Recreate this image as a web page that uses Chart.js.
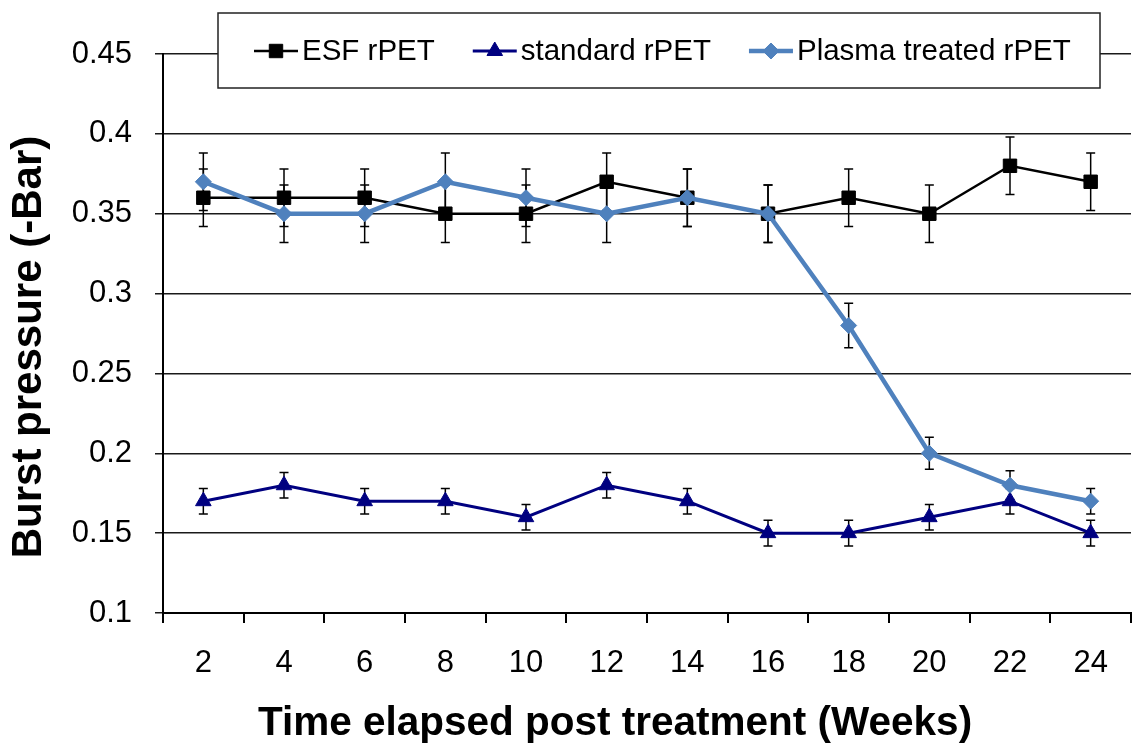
<!DOCTYPE html>
<html>
<head>
<meta charset="utf-8">
<title>Burst pressure over time</title>
<script src="https://cdn.jsdelivr.net/npm/chart.js@4.4.1/dist/chart.umd.min.js"></script>
<style>
  html, body { margin: 0; padding: 0; background: #fff; }
</style>
</head>
<body>
<canvas id="burstChart" width="1132" height="747"></canvas>
<script>
// Data
const weeks = ['2', '4', '6', '8', '10', '12', '14', '16', '18', '20', '22', '24'];

const esfValues = [0.36, 0.36, 0.36, 0.35, 0.35, 0.37, 0.36, 0.35, 0.36, 0.35, 0.38, 0.37];
const esfErrors = [0.018, 0.018, 0.018, 0.018, 0.018, 0.018, 0.018, 0.018, 0.018, 0.018, 0.018, 0.018];

const standardValues = [0.17, 0.18, 0.17, 0.17, 0.16, 0.18, 0.17, 0.15, 0.15, 0.16, 0.17, 0.15];
const standardErrors = [0.008, 0.008, 0.008, 0.008, 0.008, 0.008, 0.008, 0.008, 0.008, 0.008, 0.008, 0.008];

const plasmaValues = [0.37, 0.35, 0.35, 0.37, 0.36, 0.35, 0.36, 0.35, 0.28, 0.20, 0.18, 0.17];
const plasmaErrors = [0.018, 0.018, 0.018, 0.018, 0.018, 0.018, 0.018, 0.018, 0.014, 0.010, 0.009, 0.008];

const yTicks = [0.1, 0.15, 0.2, 0.25, 0.3, 0.35, 0.4, 0.45];

const xTitle = 'Time elapsed post treatment (Weeks)';
const yTitle = 'Burst pressure (-Bar)';

const FONT = '"Liberation Sans", Arial, Helvetica, sans-serif';

// vertical error bars, drawn under the lines and markers
const errorBars = {
    id: 'errorBars',
    beforeDatasetsDraw(chart) {
        const ctx = chart.ctx;
        const yScale = chart.scales.y;
        ctx.save();
        ctx.strokeStyle = '#000';
        ctx.lineWidth = 1.5;
        chart.data.datasets.forEach((ds, i) => {
            if (!ds.errors) return;
            const meta = chart.getDatasetMeta(i);
            meta.data.forEach((pt, j) => {
                const v = ds.data[j];
                const e = ds.errors[j];
                const top = yScale.getPixelForValue(v + e);
                const bot = yScale.getPixelForValue(v - e);
                ctx.beginPath();
                ctx.moveTo(pt.x, top);
                ctx.lineTo(pt.x, bot);
                ctx.moveTo(pt.x - 4.5, top);
                ctx.lineTo(pt.x + 4.5, top);
                ctx.moveTo(pt.x - 4.5, bot);
                ctx.lineTo(pt.x + 4.5, bot);
                ctx.stroke();
            });
        });
        ctx.restore();
    }
};

// Excel-like boxed legend (line + marker) sitting over the top gridline
const boxLegend = {
    id: 'boxLegend',
    afterDraw(chart) {
        const ctx = chart.ctx;
        ctx.save();
        ctx.fillStyle = '#fff';
        ctx.strokeStyle = '#222';
        ctx.lineWidth = 1.5;
        ctx.fillRect(218, 13, 882, 75);
        ctx.strokeRect(218, 13, 882, 75);

        ctx.font = '29.5px ' + FONT;
        ctx.textBaseline = 'middle';
        ctx.textAlign = 'left';
        const cy = 51;
        let x = 254;
        chart.data.datasets.forEach(ds => {
            ctx.strokeStyle = ds.borderColor;
            ctx.lineWidth = ds.borderWidth;
            ctx.beginPath();
            ctx.moveTo(x, cy);
            ctx.lineTo(x + 44, cy);
            ctx.stroke();

            ctx.fillStyle = ds.pointBackgroundColor;
            ctx.strokeStyle = ds.pointBorderColor;
            ctx.lineWidth = 1;
            Chart.helpers.drawPoint(ctx, {
                pointStyle: ds.pointStyle,
                radius: ds.pointRadius,
                rotation: 0,
                borderWidth: 1
            }, x + 22, cy);

            ctx.fillStyle = '#000';
            ctx.fillText(ds.label, x + 48, cy + 1);
            x += 48 + ctx.measureText(ds.label).width + 38;
        });
        ctx.restore();
    }
};

// axis titles placed where the reference has them
const axisTitles = {
    id: 'axisTitles',
    afterDraw(chart) {
        const ctx = chart.ctx;
        ctx.save();
        ctx.fillStyle = '#000';
        ctx.font = 'bold 40.5px ' + FONT;
        ctx.textAlign = 'center';
        ctx.textBaseline = 'middle';
        ctx.fillText(xTitle, 615, 724);

        ctx.font = 'bold 42px ' + FONT;
        ctx.translate(29, 347);
        ctx.rotate(-Math.PI / 2);
        ctx.fillText(yTitle, 0, 0);
        ctx.restore();
    }
};

const ctx = document.getElementById('burstChart').getContext('2d');
const burstChart = new Chart(ctx, {
    type: 'line',
    data: {
        labels: weeks,
        datasets: [
            {
                label: 'ESF rPET',
                data: esfValues,
                errors: esfErrors,
                borderColor: '#000',
                borderWidth: 2.5,
                pointStyle: 'rect',
                pointRadius: 9.5,
                pointBackgroundColor: '#000',
                pointBorderColor: '#000',
                pointBorderWidth: 1,
                tension: 0,
                order: 1
            },
            {
                label: 'standard rPET',
                data: standardValues,
                errors: standardErrors,
                borderColor: '#000080',
                borderWidth: 3,
                pointStyle: 'triangle',
                pointRadius: 9,
                pointBackgroundColor: '#000080',
                pointBorderColor: '#000080',
                pointBorderWidth: 1,
                tension: 0,
                order: 2
            },
            {
                label: 'Plasma treated rPET',
                data: plasmaValues,
                errors: plasmaErrors,
                borderColor: '#4F81BD',
                borderWidth: 4.5,
                pointStyle: 'rectRot',
                pointRadius: 8,
                pointBackgroundColor: '#4F81BD',
                pointBorderColor: '#4F81BD',
                pointBorderWidth: 1,
                tension: 0,
                order: 0
            }
        ]
    },
    options: {
        responsive: false,
        animation: false,
        layout: {
            autoPadding: false,
            padding: { top: 54, right: 1, left: 0, bottom: 0 }
        },
        plugins: {
            legend: { display: false },
            tooltip: { enabled: false }
        },
        scales: {
            x: {
                offset: true,
                afterFit: scale => {
                    scale.height = 134;
                    scale.paddingLeft = 0;
                    scale.paddingRight = 0;
                },
                grid: {
                    offset: true,
                    drawOnChartArea: false,
                    drawTicks: true,
                    tickLength: 10,
                    color: '#000',
                    lineWidth: 2
                },
                border: { display: true, color: '#000', width: 2 },
                ticks: {
                    color: '#000',
                    padding: 22,
                    maxRotation: 0,
                    font: { family: FONT, size: 31 }
                }
            },
            y: {
                min: yTicks[0],
                max: yTicks[yTicks.length - 1],
                afterFit: scale => { scale.width = 163; },
                afterBuildTicks: scale => {
                    scale.ticks = yTicks.map(v => ({ value: v }));
                },
                grid: {
                    color: '#1a1a1a',
                    lineWidth: 1.5,
                    drawTicks: true,
                    tickLength: 8
                },
                border: { display: true, color: '#000', width: 2 },
                ticks: {
                    color: '#000',
                    padding: 23,
                    font: { family: FONT, size: 31 },
                    callback: v => String(+v.toFixed(2))
                }
            }
        }
    },
    plugins: [errorBars, boxLegend, axisTitles]
});
</script>
</body>
</html>
